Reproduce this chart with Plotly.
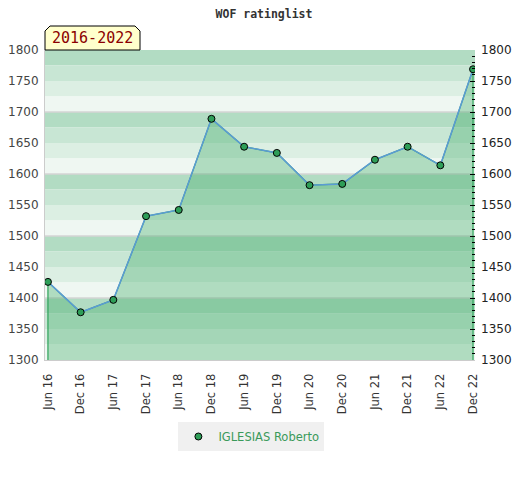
import plotly.graph_objects as go

# rating periods and values
periods = ["Jun 16", "Dec 16", "Jun 17", "Dec 17", "Jun 18", "Dec 18", "Jun 19",
           "Dec 19", "Jun 20", "Dec 20", "Jun 21", "Dec 21", "Jun 22", "Dec 22"]
ratings = [1426, 1377, 1397, 1532, 1542, 1689, 1644,
           1634, 1582, 1584, 1623, 1644, 1614, 1769]
player = "IGLESIAS Roberto"
span_label = "2016-2022"
y_min, y_max = 1300, 1800

band_colors = ["#b2dcc3", "#c8e6d4", "#dcefe3", "#eff7f2"]

fig = go.Figure()

# striped background, 4 bands per 100 points, gray rule every 100
shapes = []
i = 0
for top in range(y_max, y_min, -25):
    shapes.append(dict(type="rect", xref="paper", yref="y", x0=0, x1=1,
                       y0=top - 25, y1=top, fillcolor=band_colors[i % 4],
                       line_width=0, layer="below"))
    i += 1
for lvl in range(y_min + 100, y_max, 100):
    shapes.append(dict(type="line", xref="paper", yref="y", x0=0, x1=1,
                       y0=lvl, y1=lvl, line=dict(color="#d4d4d4", width=1.5),
                       layer="below"))

# yellow tab above the plot with clipped top corners
shapes.append(dict(type="path", xref="paper", yref="paper", xsizemode="pixel",
                   ysizemode="pixel", xanchor=0, yanchor=1,
                   path="M 0 0 L 0 19 L 5 24 L 90 24 L 95 19 L 95 0 Z",
                   fillcolor="#ffffcc", line=dict(color="black", width=1)))

# filled area under the line (closed down to the axis bottom)
fig.add_trace(go.Scatter(
    x=[periods[0]] + periods + [periods[-1]],
    y=[y_min] + ratings + [y_min],
    mode="lines", fill="toself",
    fillcolor="rgba(60,170,100,0.35)",
    line=dict(color="#2ea35a", width=1.2),
    hoverinfo="skip", showlegend=False,
))

fig.add_trace(go.Scatter(
    x=periods, y=ratings, name=player,
    mode="lines+markers", showlegend=False,
    line=dict(color="#5b9bd5", width=1.5),
    marker=dict(color="#2e9e58", size=7, line=dict(color="black", width=1)),
))

# legend entry shows the marker only
fig.add_trace(go.Scatter(
    x=[None], y=[None], name=player, mode="markers",
    marker=dict(color="#2e9e58", size=7, line=dict(color="black", width=1)),
))

# invisible trace for the right axis
fig.add_trace(go.Scatter(x=periods, y=ratings, yaxis="y2", mode="none",
                         showlegend=False, hoverinfo="skip"))

fig.update_layout(
    width=512, height=472,
    margin=dict(l=37, r=45, t=42, b=120),
    paper_bgcolor="white", plot_bgcolor="white",
    title=dict(text="<b>WOF ratinglist</b>", x=0.5, y=0.995, xanchor="center", yanchor="top",
               font=dict(family="DejaVu Sans Mono", size=11.5, color="#333")),
    shapes=shapes,
    xaxis=dict(type="category", range=[-0.09, 13.06], tickangle=-90, automargin=False,
               showgrid=False, showline=True, linecolor="#cccccc", mirror=False,
               ticks="", ticklabelstandoff=8,
               tickfont=dict(family="DejaVu Sans", size=11.5, color="#333")),
    yaxis=dict(range=[y_min, y_max], dtick=50, showgrid=False, automargin=False,
               showline=True, linecolor="#cccccc", zeroline=False, ticks="",
               ticklabelstandoff=3,
               tickfont=dict(family="DejaVu Sans", size=12, color="#444")),
    yaxis2=dict(range=[y_min, y_max], dtick=50, overlaying="y", side="right",
                showgrid=False, zeroline=False, showline=False, automargin=False,
                ticks="inside", ticklen=5, tickcolor="black", ticklabelstandoff=5,
                minor=dict(dtick=10, ticks="inside", ticklen=3, tickcolor="black"),
                tickfont=dict(family="DejaVu Sans", size=12, color="#222")),
    legend=dict(orientation="h", x=0.48, xanchor="center", y=-0.2, yanchor="top",
                bgcolor="#f0f0f0", font=dict(family="DejaVu Sans", size=11.5, color="#3a9a5a")),
    annotations=[dict(text=span_label, xref="paper", yref="paper", x=0, y=1,
                      xanchor="center", yanchor="middle", xshift=47.5, yshift=12,
                      showarrow=False,
                      font=dict(family="DejaVu Sans Mono", size=15, color="#8b0000"))],
)

fig.write_html("out.html")
